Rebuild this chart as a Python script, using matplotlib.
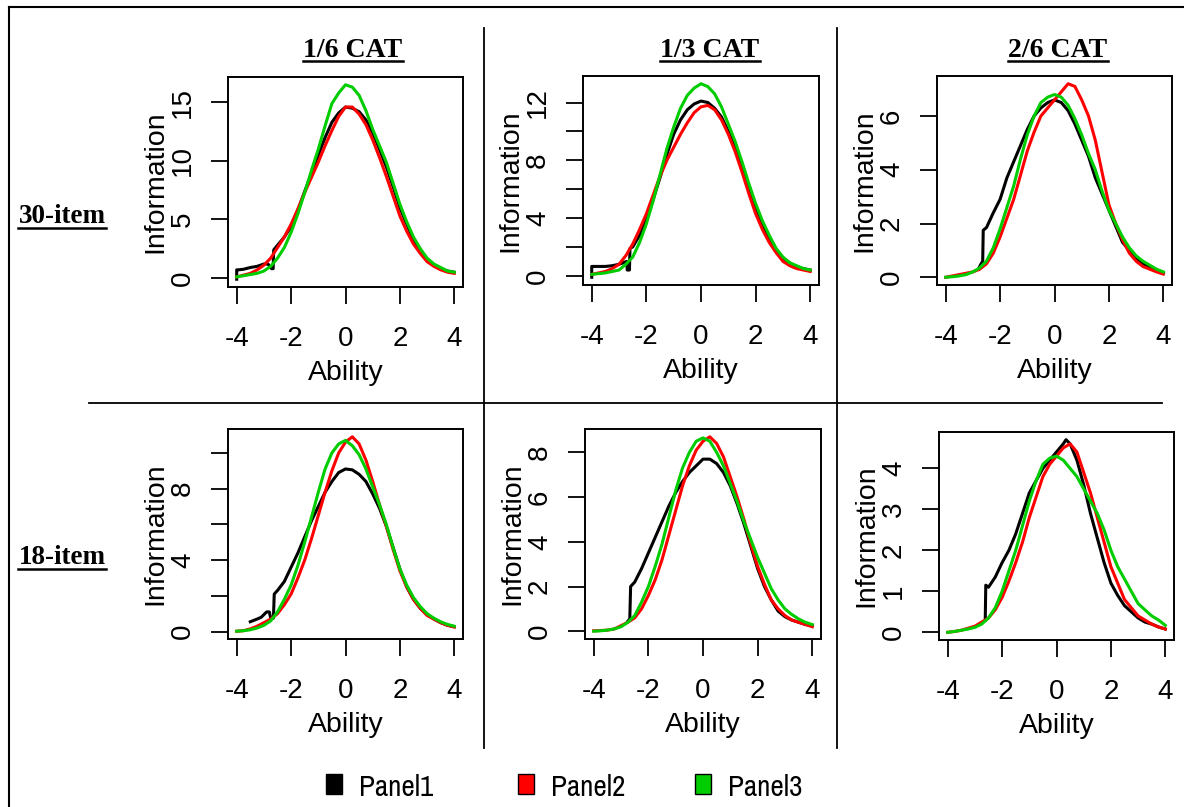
import matplotlib
matplotlib.use("Agg")
import matplotlib.pyplot as plt
from matplotlib.lines import Line2D
from matplotlib.patches import Rectangle

plt.rcParams['font.family'] = ['Liberation Sans', 'DejaVu Sans']
plt.rcParams['axes.unicode_minus'] = False

# ---- data ----
ability = [-4, -3.75, -3.5, -3.25, -3, -2.75, -2.5, -2.25, -2, -1.75, -1.5, -1.25,
           -1, -0.75, -0.5, -0.25, 0, 0.25, 0.5, 0.75, 1, 1.25, 1.5, 1.75,
           2, 2.25, 2.5, 2.75, 3, 3.25, 3.5, 3.75, 4]

col_titles = ["1/6 CAT", "1/3 CAT", "2/6 CAT"]
row_titles = ["30-item", "18-item"]
series_names = ["Panel1", "Panel2", "Panel3"]
series_colors = ["black", "red", "#00CD00"]
xtick_values = [-4, -2, 0, 2, 4]
xtick_labels = ["-4", "-2", "0", "2", "4"]

# 30-item, 1/6 CAT
a_red = [0.1, 0.25, 0.4, 0.7, 1.1, 1.7, 2.6, 3.5, 4.6, 5.9, 7.3, 8.6, 9.9, 11.3, 12.6, 13.8, 14.6,
         14.6, 14.0, 13.1, 11.8, 10.3, 8.7, 7.0, 5.3, 4.0, 2.9, 2.1, 1.4, 1.0, 0.7, 0.5, 0.4]
a_green = [0.1, 0.2, 0.3, 0.4, 0.6, 1.0, 1.7, 2.6, 3.9, 5.5, 7.3, 9.2, 11.0, 13.0, 14.9, 15.8, 16.5,
           16.3, 15.6, 14.3, 12.7, 11.3, 9.9, 8.1, 6.3, 4.8, 3.5, 2.5, 1.7, 1.2, 0.9, 0.6, 0.5]
a_black_x = [-4, -4, -3.95, -3.75, -3.5, -3.25, -3, -2.85, -2.72, -2.66, -2.64, -2.5, -2.25, -2,
             -1.75, -1.5, -1.25, -1, -0.75, -0.5, -0.25, 0, 0.25, 0.5, 0.75, 1, 1.25, 1.5, 1.75,
             2, 2.25, 2.5, 2.75, 3, 3.25, 3.5, 3.75, 4]
a_black = [-0.1, 0.7, 0.7, 0.75, 0.9, 1.0, 1.2, 1.2, 0.8, 0.8, 2.4, 2.8, 3.5, 4.4, 5.8, 7.4, 8.9,
           10.5, 12.0, 13.3, 14.1, 14.6, 14.5, 14.2, 13.5, 12.4, 11.0, 9.5, 7.8, 6.0, 4.6, 3.3,
           2.3, 1.6, 1.1, 0.8, 0.6, 0.5]

# 30-item, 1/3 CAT
b_red = [0.1, 0.2, 0.3, 0.5, 0.8, 1.4, 2.2, 3.2, 4.3, 5.6, 6.9, 8.0, 8.9, 9.8, 10.6, 11.3, 11.7,
         11.8, 11.5, 10.8, 9.8, 8.6, 7.2, 5.7, 4.3, 3.2, 2.3, 1.6, 1.0, 0.7, 0.5, 0.4, 0.3]
b_green = [0.1, 0.15, 0.2, 0.3, 0.4, 0.8, 1.3, 2.3, 3.6, 5.2, 7.0, 8.8, 10.3, 11.6, 12.5, 13.0, 13.3,
           13.1, 12.6, 11.7, 10.5, 9.3, 7.9, 6.4, 5.0, 3.8, 2.8, 1.9, 1.3, 0.9, 0.7, 0.5, 0.4]
b_black_x = [-4, -4, -3.95, -3.75, -3.5, -3.25, -3, -2.85, -2.72, -2.7, -2.62, -2.6, -2.5, -2.25,
             -2, -1.75, -1.5, -1.25, -1, -0.75, -0.5, -0.25, 0, 0.25, 0.5, 0.75, 1, 1.25, 1.5,
             1.75, 2, 2.25, 2.5, 2.75, 3, 3.25, 3.5, 3.75, 4]
b_black = [-0.1, 0.65, 0.65, 0.65, 0.65, 0.7, 0.8, 0.9, 1.0, 0.4, 0.4, 1.9, 2.0, 2.8, 3.9, 5.3,
           6.8, 8.4, 9.8, 10.8, 11.5, 11.9, 12.1, 12.0, 11.6, 11.0, 10.0, 8.9, 7.6, 6.2, 4.8,
           3.6, 2.6, 1.8, 1.2, 0.9, 0.6, 0.5, 0.4]

# 30-item, 2/6 CAT
c_red = [0.0, 0.05, 0.1, 0.15, 0.2, 0.3, 0.5, 0.9, 1.5, 2.2, 2.9, 3.8, 4.7, 5.4, 6.0, 6.3, 6.6,
         6.9, 7.2, 7.1, 6.6, 6.0, 5.1, 3.9, 2.7, 2.0, 1.4, 0.9, 0.6, 0.4, 0.3, 0.2, 0.12]
c_green = [0.0, 0.02, 0.05, 0.1, 0.2, 0.35, 0.6, 1.1, 1.8, 2.6, 3.4, 4.4, 5.3, 6.0, 6.5, 6.7, 6.8,
           6.7, 6.4, 5.9, 5.3, 4.6, 4.0, 3.2, 2.5, 2.0, 1.5, 1.1, 0.8, 0.6, 0.45, 0.3, 0.2]
c_black_x = [-2.8, -2.7, -2.64, -2.62, -2.5, -2.25, -2, -1.75, -1.5, -1.25, -1, -0.75, -0.5,
             -0.25, 0, 0.25, 0.5, 0.75, 1, 1.25, 1.5, 1.75, 2, 2.25, 2.5, 2.75, 3, 3.25, 3.5,
             3.75, 4]
c_black = [0.3, 0.5, 0.6, 1.75, 1.85, 2.4, 2.9, 3.7, 4.3, 4.9, 5.5, 6.0, 6.3, 6.5, 6.6, 6.5, 6.2,
           5.7, 5.1, 4.5, 3.7, 3.1, 2.5, 1.9, 1.3, 1.0, 0.7, 0.5, 0.4, 0.25, 0.15]

# 18-item, 1/6 CAT
d_red = [0.02, 0.05, 0.15, 0.3, 0.5, 0.7, 1.0, 1.5, 2.1, 3.0, 4.0, 5.2, 6.5, 7.8, 9.0, 10.0, 10.6,
         10.9, 10.5, 9.6, 8.4, 7.1, 5.9, 4.6, 3.4, 2.5, 1.8, 1.3, 0.9, 0.7, 0.5, 0.35, 0.25]
d_green = [0.02, 0.05, 0.1, 0.2, 0.35, 0.6, 1.1, 1.8, 2.6, 3.7, 5.0, 6.4, 7.8, 9.1, 10.0, 10.5, 10.7,
           10.4, 9.9, 9.1, 8.1, 7.1, 6.0, 4.7, 3.5, 2.6, 1.9, 1.4, 1.0, 0.75, 0.55, 0.4, 0.3]
d_black_x = [-3.5, -3.25, -3.1, -2.9, -2.8, -2.75, -2.65, -2.62, -2.5, -2.25, -2, -1.75, -1.5,
             -1.25, -1, -0.75, -0.5, -0.25, 0, 0.25, 0.5, 0.75, 1, 1.25, 1.5, 1.75, 2, 2.25,
             2.5, 2.75, 3, 3.25, 3.5, 3.75, 4]
d_black = [0.55, 0.7, 0.8, 1.1, 1.1, 0.75, 0.75, 2.1, 2.3, 2.8, 3.6, 4.4, 5.3, 6.2, 7.0, 7.8, 8.4,
           8.9, 9.1, 9.05, 8.8, 8.4, 7.7, 6.9, 5.9, 4.7, 3.5, 2.5, 1.8, 1.3, 0.95, 0.7, 0.5,
           0.35, 0.28]

# 18-item, 1/3 CAT
e_red = [0.02, 0.03, 0.05, 0.1, 0.25, 0.4, 0.6, 1.0, 1.6, 2.3, 3.2, 4.3, 5.4, 6.5, 7.4, 8.1, 8.5,
         8.7, 8.4, 7.8, 6.9, 6.0, 5.0, 3.9, 2.9, 2.1, 1.4, 1.0, 0.7, 0.5, 0.4, 0.3, 0.2]
e_green = [0.0, 0.02, 0.05, 0.1, 0.2, 0.4, 0.7, 1.3, 2.0, 2.9, 3.9, 5.1, 6.3, 7.3, 8.0, 8.5, 8.65,
           8.5, 8.0, 7.4, 6.6, 5.8, 4.9, 4.1, 3.3, 2.6, 1.9, 1.4, 1.0, 0.75, 0.55, 0.4, 0.3]
e_black_x = [-2.75, -2.68, -2.65, -2.5, -2.25, -2, -1.75, -1.5, -1.25, -1, -0.75, -0.5, -0.25,
             0, 0.25, 0.5, 0.75, 1, 1.25, 1.5, 1.75, 2, 2.25, 2.5, 2.75, 3, 3.25, 3.5, 3.75, 4]
e_black = [0.45, 0.55, 2.0, 2.2, 2.8, 3.5, 4.2, 4.9, 5.6, 6.2, 6.7, 7.1, 7.4, 7.7, 7.7, 7.5, 7.1,
           6.5, 5.7, 4.8, 3.8, 2.8, 2.0, 1.4, 0.9, 0.65, 0.5, 0.4, 0.3, 0.25]

# 18-item, 2/6 CAT
f_red = [0.0, 0.02, 0.05, 0.1, 0.15, 0.25, 0.35, 0.55, 0.85, 1.25, 1.7, 2.2, 2.8, 3.3, 3.8, 4.1, 4.3,
         4.5, 4.6, 4.4, 3.9, 3.4, 2.8, 2.2, 1.6, 1.2, 0.8, 0.6, 0.4, 0.3, 0.2, 0.13, 0.08]
f_green = [0.0, 0.02, 0.05, 0.08, 0.12, 0.2, 0.35, 0.6, 1.0, 1.5, 2.0, 2.6, 3.2, 3.7, 4.1, 4.25, 4.3,
           4.2, 4.0, 3.8, 3.5, 3.2, 2.9, 2.5, 2.0, 1.6, 1.3, 1.0, 0.7, 0.55, 0.4, 0.3, 0.17]
f_black_x = [-2.62, -2.6, -2.5, -2.25, -2, -1.75, -1.5, -1.25, -1, -0.75, -0.5, -0.25, 0, 0.25,
             0.35, 0.5, 0.75, 1, 1.25, 1.5, 1.75, 2, 2.25, 2.5, 2.75, 3, 3.25, 3.5, 3.75, 4]
f_black = [0.3, 1.15, 1.1, 1.35, 1.7, 2.0, 2.4, 2.9, 3.4, 3.7, 4.0, 4.2, 4.4, 4.6, 4.7, 4.6, 4.2,
           3.6, 2.9, 2.3, 1.7, 1.2, 0.9, 0.65, 0.5, 0.35, 0.25, 0.2, 0.13, 0.08]

a_yticks, a_ylabels = [0, 5, 10, 15], ["0", "5", "10", "15"]
b_yticks, b_ylabels = [0, 2, 4, 6, 8, 10, 12], ["0", "", "4", "", "8", "", "12"]
c_yticks, c_ylabels = [0, 2, 4, 6], ["0", "2", "4", "6"]
d_yticks, d_ylabels = [0, 2, 4, 6, 8, 10], ["0", "", "4", "", "8", ""]
e_yticks, e_ylabels = [0, 2, 4, 6, 8], ["0", "2", "4", "6", "8"]
f_yticks, f_ylabels = [0, 1, 2, 3, 4], ["0", "1", "2", "3", "4"]

panels = [
    (a_black_x, a_black, a_red, a_green, a_yticks, a_ylabels),
    (b_black_x, b_black, b_red, b_green, b_yticks, b_ylabels),
    (c_black_x, c_black, c_red, c_green, c_yticks, c_ylabels),
    (d_black_x, d_black, d_red, d_green, d_yticks, d_ylabels),
    (e_black_x, e_black, e_red, e_green, e_yticks, e_ylabels),
    (f_black_x, f_black, f_red, f_green, f_yticks, f_ylabels),
]

# ---- layout (pixels of the 1184x807 canvas) ----
W, H = 1184, 807
boxes = [(228, 77, 463, 287), (583, 76, 819, 285), (937, 76, 1172, 285),
         (228, 429, 463, 639), (585, 429, 821, 639), (939, 432, 1174, 640)]


def fx(px):
    return px / W


def fy(py):
    return 1 - py / H


fig = plt.figure(figsize=(W / 100, H / 100), dpi=100)

for (l, t, r, b), (bx, by, red, green, yt, yl) in zip(boxes, panels):
    ax = fig.add_axes([fx(l), fy(b), (r - l) / W, (b - t) / H])
    ax.plot(bx, by, color=series_colors[0], lw=2.2)
    ax.plot(ability, red, color=series_colors[1], lw=2.2)
    ax.plot(ability, green, color=series_colors[2], lw=2.2)
    ax.margins(0.04)
    ax.set_xticks(xtick_values)
    ax.set_xticklabels(xtick_labels)
    ax.set_yticks(yt)
    ax.set_yticklabels(yl)
    ax.tick_params(length=12, width=1.3, labelsize=20)
    ax.tick_params(axis='x', pad=16)
    ax.tick_params(axis='y', pad=11, labelrotation=90)
    for lab in ax.get_yticklabels():
        lab.set_va('center')
    for s in ax.spines.values():
        s.set_linewidth(1.4)
    fig.text(fx((l + r) / 2), fy(b + 93), "Ability", ha='center', va='baseline', fontsize=20.5)
    fig.text(fx(l - 66), fy((t + b) / 2), "Information", rotation=90, rotation_mode='anchor',
             ha='center', va='baseline', fontsize=20.5)

# column / row headings, bold serif and underlined
headings = []
for cx, txt in zip([353, 710, 1058], col_titles):
    headings.append((fig.text(fx(cx), fy(57), txt, ha='center', va='baseline',
                              family='Liberation Serif', weight='bold', fontsize=20), 61))
for cy, txt in zip([223, 564], row_titles):
    headings.append((fig.text(fx(62), fy(cy), txt, ha='center', va='baseline',
                              family='Liberation Serif', weight='bold', fontsize=19.5), cy + 5))

fig.canvas.draw()
rend = fig.canvas.get_renderer()
for txt, uy in headings:
    bb = txt.get_window_extent(rend)
    fig.add_artist(Line2D([bb.x0 / W, bb.x1 / W], [fy(uy), fy(uy)], color='black', lw=1.8))

# divider lines and outer frame
for x in [484, 837]:
    fig.add_artist(Line2D([fx(x), fx(x)], [fy(28), fy(748)], color='black', lw=1.3))
fig.add_artist(Line2D([fx(89), fx(1162)], [fy(403), fy(403)], color='black', lw=1.3))
fig.add_artist(Line2D([fx(9), fx(1184)], [fy(7), fy(7)], color='black', lw=1.5))
fig.add_artist(Line2D([fx(9), fx(9)], [fy(7), fy(807)], color='black', lw=1.5))

# legend
for sx, tx, name, col in zip([326, 518, 695], [359, 551, 728], series_names, series_colors):
    fig.add_artist(Rectangle((fx(sx), fy(794)), 16 / W, 20 / H, facecolor=col,
                             edgecolor='black', lw=1.0))
    fig.text(fx(tx), fy(796), name, ha='left', va='baseline', fontsize=21,
             family=['Archivo Narrow', 'Liberation Sans', 'DejaVu Sans'])

fig.savefig("out.png", dpi=100)
